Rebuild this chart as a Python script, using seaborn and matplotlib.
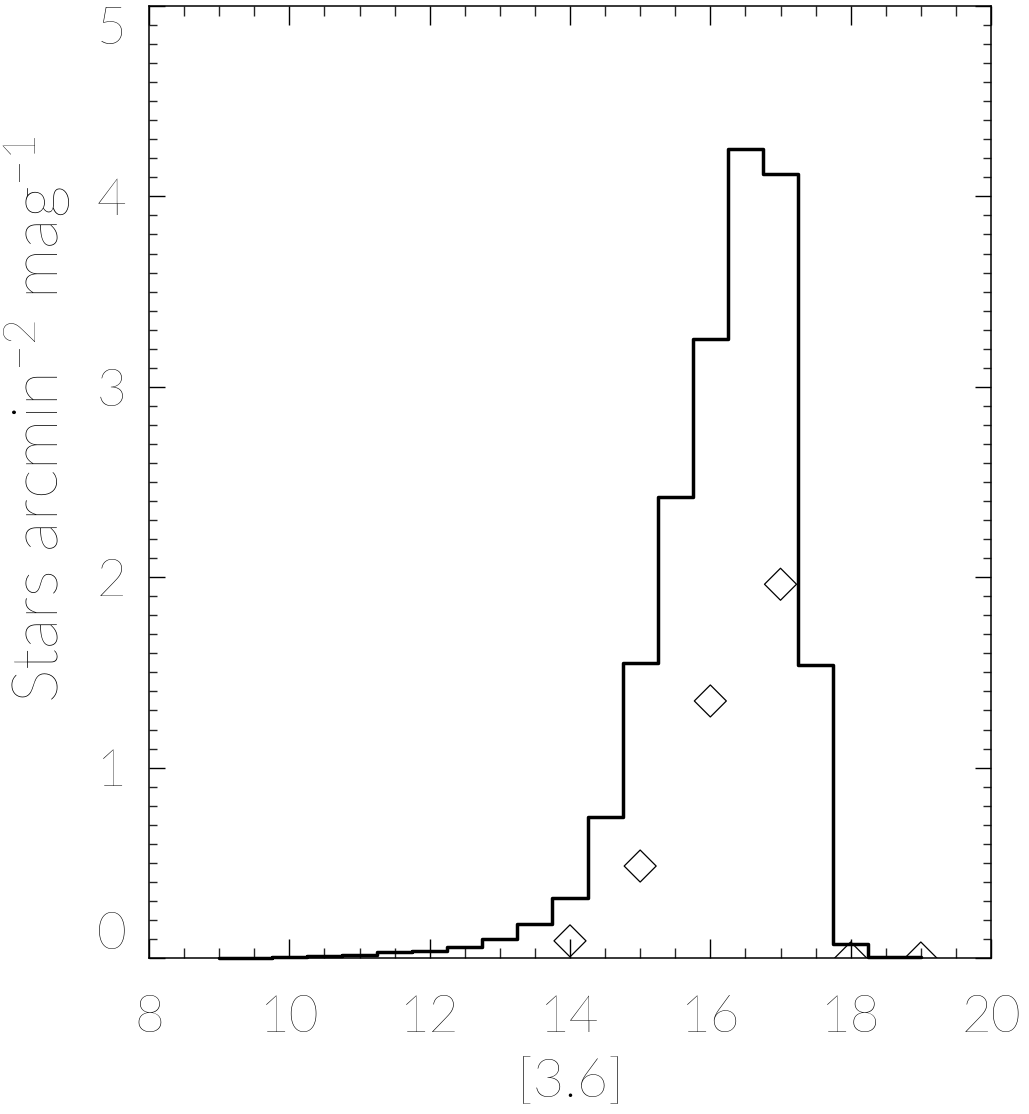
import matplotlib
matplotlib.use("Agg")
import matplotlib.pyplot as plt
from matplotlib.ticker import MultipleLocator
import seaborn as sns
import pandas as pd
from matplotlib import font_manager

# ---- data ----
bin_centers = [9.0, 9.5, 10.0, 10.5, 11.0, 11.5, 12.0, 12.5, 13.0, 13.5, 14.0,
               14.5, 15.0, 15.5, 16.0, 16.5, 17.0, 17.5, 18.0, 18.5, 19.0]
counts = [0.002, 0.002, 0.005, 0.010, 0.017, 0.032, 0.036, 0.058, 0.100, 0.180, 0.315,
          0.74, 1.55, 2.42, 3.25, 4.25, 4.12, 1.54, 0.072, 0.004, 0.003]
model_mag = [14, 15, 16, 17, 18, 19]
model_val = [0.09, 0.483, 1.35, 1.963, 0.0, 0.0]
xticks = [8, 10, 12, 14, 16, 18, 20]
yticks = [0, 1, 2, 3, 4, 5]

sns.set_style("ticks")
names = {f.name for f in font_manager.fontManager.ttflist}
fam = "Lato" if "Lato" in names else "DejaVu Sans"
plt.rcParams['font.family'] = [fam, 'DejaVu Sans']
plt.rcParams['text.color'] = 'black'
plt.rcParams['mathtext.fontset'] = 'custom'
plt.rcParams['mathtext.rm'] = fam + ':light'
plt.rcParams['mathtext.it'] = fam + ':light'
plt.rcParams['mathtext.default'] = 'rm'

W, H = 1029, 1114
fig = plt.figure(figsize=(W / 100, H / 100), dpi=100)
ax = fig.add_axes([149 / W, 1 - 958 / H, (991 - 149) / W, (958 - 6) / H])

hist = pd.DataFrame({"mag": bin_centers, "n": counts})
sns.lineplot(data=hist, x="mag", y="n", ax=ax, drawstyle="steps-mid",
             color="black", linewidth=2.5, clip_on=False, zorder=3)

mod = pd.DataFrame({"mag": model_mag, "v": model_val})
sns.scatterplot(data=mod, x="mag", y="v", ax=ax, marker="D", s=16.3 ** 2,
                facecolor="none", edgecolor="black", linewidth=0.9, zorder=4)

ax.set_xlim(8, 20)
ax.set_ylim(0, 5)
ax.xaxis.set_major_locator(MultipleLocator(2))
ax.xaxis.set_minor_locator(MultipleLocator(0.5))
ax.yaxis.set_major_locator(MultipleLocator(1))
ax.yaxis.set_minor_locator(MultipleLocator(0.1))
ax.set_xticks(xticks)
ax.set_yticks(yticks)
ax.set_xticklabels([str(t) for t in xticks])
ax.set_yticklabels([str(t) for t in yticks])

for s in ax.spines.values():
    s.set_visible(True)
    s.set_linewidth(1.1)
    s.set_color("black")

ax.tick_params(axis="x", which="major", direction="in", length=13.5, width=1.0,
               top=True, bottom=True, pad=26, labelsize=37, colors="black")
ax.tick_params(axis="x", which="minor", direction="in", length=7, width=1.0,
               top=True, bottom=True)
ax.tick_params(axis="y", which="major", direction="in", length=11.5, width=1.0,
               left=True, right=True, pad=16, labelsize=37, colors="black")
ax.tick_params(axis="y", which="minor", direction="in", length=5.8, width=1.0,
               left=True, right=True)
for lab in ax.get_xticklabels() + ax.get_yticklabels():
    lab.set_fontweight("light")
    lab.set_color("black")
ylabs = ax.get_yticklabels()
ylabs[-1].set_va("top")
ylabs[0].set_va("bottom")

ax.set_xlabel("")
ax.set_ylabel("")
fig.text(570 / W, 1 - 1083 / H, "[3.6]", ha="center", va="center",
         fontsize=39, fontweight="light", color="black")
fig.text(38 / W, 1 - 419 / H, r"Stars arcmin$^{-2}$ mag$^{-1}$", rotation=90,
         ha="center", va="center", fontsize=46, fontweight="light", color="black")

fig.savefig("out.png", dpi=100)
